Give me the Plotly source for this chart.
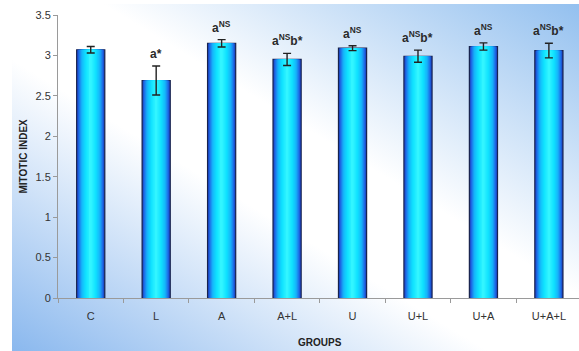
import base64
import plotly.graph_objects as go

# Data
groups = ["C", "L", "A", "A+L", "U", "U+L", "U+A", "U+A+L"]
mitotic_index = [3.07, 2.69, 3.15, 2.95, 3.09, 2.99, 3.11, 3.06]
sem = [0.04, 0.18, 0.045, 0.075, 0.03, 0.075, 0.045, 0.09]
sig_labels = ["", "a*", "a<sup>NS</sup>", "a<sup>NS</sup>b*", "a<sup>NS</sup>",
              "a<sup>NS</sup>b*", "a<sup>NS</sup>", "a<sup>NS</sup>b*"]

W, H = 579, 351
ML, MR, MT, MB = 58, 0, 15, 53
plot_w = W - ML - MR
plot_h = H - MT - MB

BAR_W = 0.43
N_LAYERS = 16

# horizontal shading of each column: dark blue rim -> cyan core
stops = [(0.0, (28, 60, 185)), (0.12, (30, 105, 230)), (0.35, (22, 180, 250)),
         (0.65, (15, 225, 255)), (1.0, (50, 245, 255))]


def shade(t):
    for (t0, c0), (t1, c1) in zip(stops[:-1], stops[1:]):
        if t <= t1:
            f = (t - t0) / (t1 - t0)
            c = [round(a + (b - a) * f) for a, b in zip(c0, c1)]
            return "rgb({},{},{})".format(*c)
    return "rgb({},{},{})".format(*stops[-1][1])


fig = go.Figure()
for k in range(N_LAYERS):
    t = k / (N_LAYERS - 1)
    w = BAR_W * (1 - k / N_LAYERS)
    fig.add_trace(go.Bar(
        x=groups, y=mitotic_index, width=w,
        marker=dict(color=shade(t),
                    line=dict(color="#18234d" if k == 0 else shade(t), width=1.2 if k == 0 else 0)),
        hoverinfo="skip", showlegend=False,
    ))

# error bars
fig.add_trace(go.Scatter(
    x=groups, y=mitotic_index, mode="markers",
    marker=dict(size=1, color="rgba(0,0,0,0)"),
    error_y=dict(type="data", array=sem, visible=True, color="#222222", thickness=1.4, width=4),
    showlegend=False, hoverinfo="skip",
))

label_font = dict(family="Arial, Liberation Sans, sans-serif", size=12, color="#2a2a2a")

# significance letters above the error bars
for g, v, e, s in zip(groups, mitotic_index, sem, sig_labels):
    if s:
        fig.add_annotation(x=g, y=v + e, text="<b>" + s + "</b>", showarrow=False,
                           xanchor="center", yanchor="bottom", yshift=3, font=label_font)

# diagonal backdrop: blue corners fading to white across the middle
svg = (
    '<svg xmlns="http://www.w3.org/2000/svg" width="567" height="347" viewBox="0 0 567 347" '
    'preserveAspectRatio="none">'
    '<defs><linearGradient id="g" x1="0" y1="1" x2="1" y2="0">'
    '<stop offset="0" stop-color="#8ab8ee"/>'
    '<stop offset="0.42" stop-color="#ffffff"/>'
    '<stop offset="0.58" stop-color="#ffffff"/>'
    '<stop offset="1" stop-color="#93c0ef"/>'
    '</linearGradient></defs>'
    '<rect width="567" height="347" fill="url(#g)"/></svg>'
)
bg_uri = "data:image/svg+xml;base64," + base64.b64encode(svg.encode()).decode()

bg_left, bg_top = 12, 4
fig.add_layout_image(dict(
    source=bg_uri, xref="paper", yref="paper",
    x=(bg_left - ML) / plot_w, y=1 + (MT - bg_top) / plot_h,
    sizex=(W - bg_left) / plot_w, sizey=(H - bg_top) / plot_h,
    xanchor="left", yanchor="top", sizing="stretch", layer="below",
))

tick_font = dict(family="Arial, Liberation Sans, sans-serif", size=11, color="#333333")
title_font = dict(family="Arial, Liberation Sans, sans-serif", size=10, color="#222222")

fig.add_annotation(text="<b>MITOTIC INDEX</b>", xref="paper", yref="paper",
                   x=(23 - ML) / plot_w, y=0.5, textangle=-90, showarrow=False,
                   font=title_font, xanchor="center", yanchor="middle")
fig.add_annotation(text="<b>GROUPS</b>", xref="paper", yref="paper",
                   x=(320 - ML) / plot_w, y=(MT + plot_h - 342) / plot_h, showarrow=False,
                   font=title_font, xanchor="center", yanchor="middle")

fig.update_layout(
    width=W, height=H,
    margin=dict(l=ML, r=MR, t=MT, b=MB),
    paper_bgcolor="white", plot_bgcolor="rgba(0,0,0,0)",
    barmode="overlay", showlegend=False,
    xaxis=dict(type="category", range=[-0.5, 7.46], showgrid=False,
               showline=True, linecolor="#9a9a9a", linewidth=1,
               ticks="outside", tickson="boundaries", ticklen=4, tickcolor="#9a9a9a",
               tickfont=tick_font, ticklabelstandoff=8),
    yaxis=dict(range=[0, 3.5], dtick=0.5, showgrid=False, zeroline=False,
               showline=True, linecolor="#9a9a9a", linewidth=1,
               ticks="outside", ticklen=4, tickcolor="#9a9a9a", tickfont=tick_font),
)

fig.write_html("out.html")
